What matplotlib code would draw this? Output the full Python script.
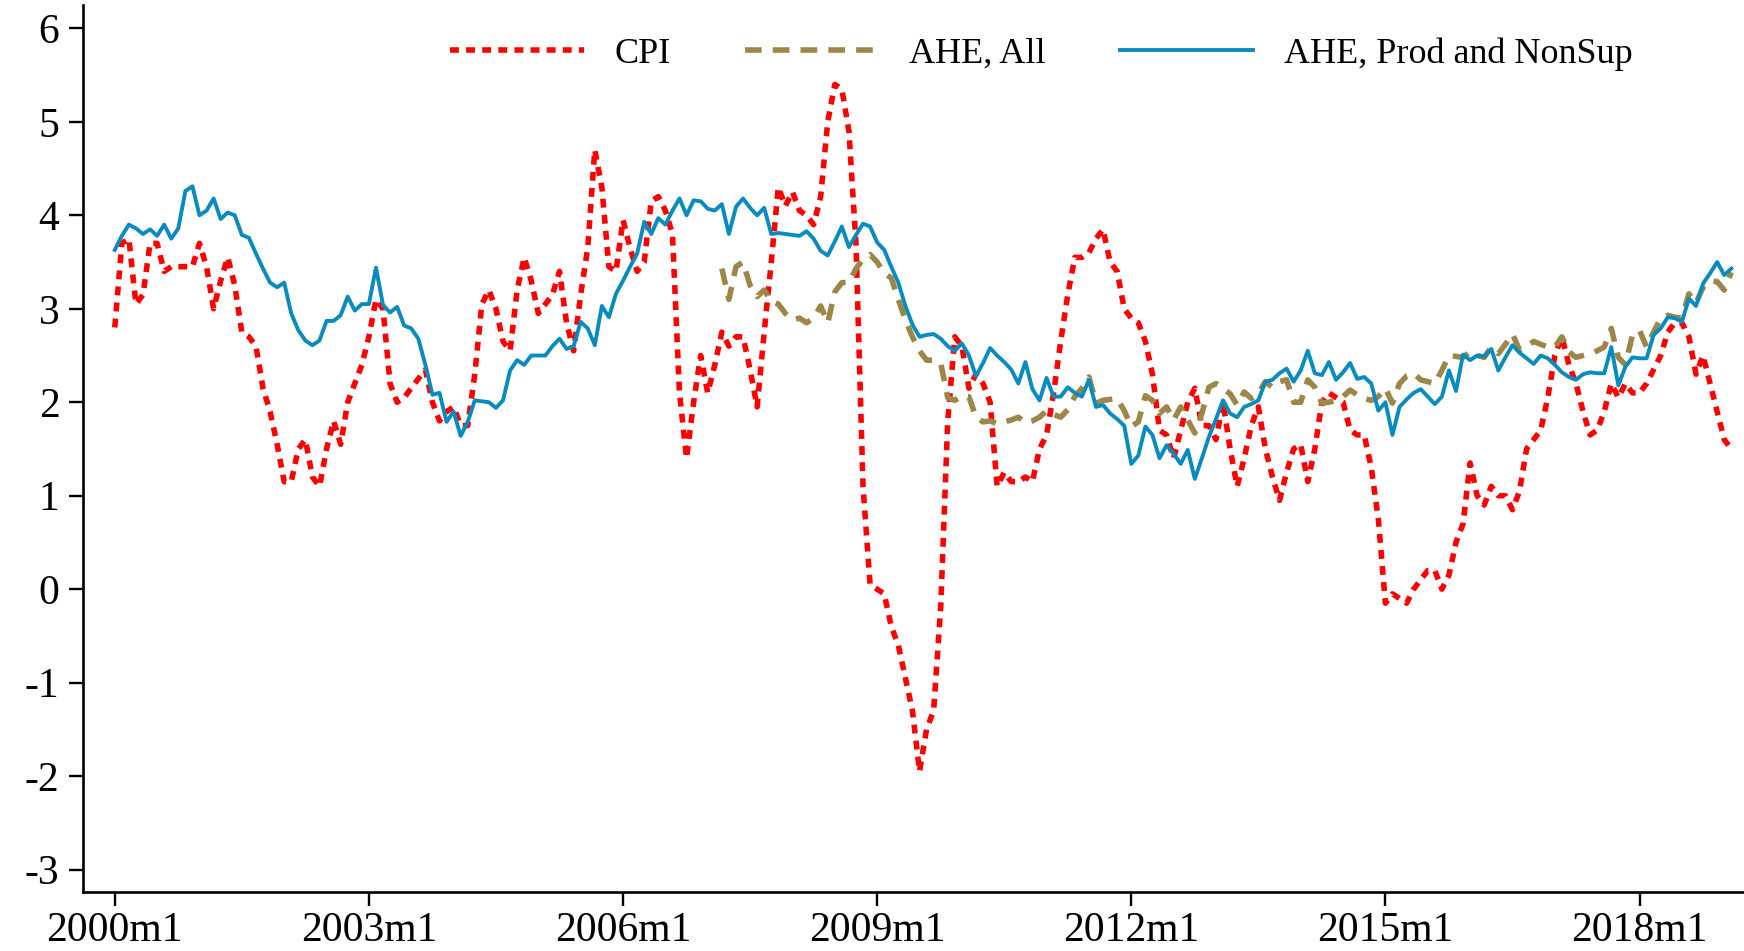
import numpy as np
import matplotlib
matplotlib.use("Agg")
import matplotlib.pyplot as plt

# monthly series, 2000m1 .. 2019m2 (year-over-year % change)
cpi = [
    2.80, 3.70, 3.75, 3.05, 3.15, 3.70, 3.70, 3.40, 3.45, 3.45, 3.45, 3.45,   # 2000
    3.70, 3.45, 3.00, 3.30, 3.55, 3.25, 2.75, 2.70, 2.60, 2.15, 1.90, 1.55,   # 2001
    1.15, 1.15, 1.50, 1.60, 1.20, 1.10, 1.50, 1.80, 1.55, 2.00, 2.20, 2.40,   # 2002
    2.70, 3.10, 3.00, 2.20, 2.00, 2.05, 2.15, 2.25, 2.35, 2.00, 1.80, 1.90,   # 2003
    1.95, 1.75, 1.75, 2.30, 3.05, 3.20, 3.00, 2.65, 2.55, 3.20, 3.55, 3.30,   # 2004
    2.95, 3.05, 3.15, 3.40, 2.85, 2.55, 3.15, 3.65, 4.70, 4.30, 3.45, 3.40,   # 2005
    3.95, 3.65, 3.40, 3.50, 4.15, 4.20, 4.05, 3.80, 2.10, 1.40, 2.00, 2.50,   # 2006
    2.10, 2.40, 2.75, 2.60, 2.70, 2.70, 2.35, 1.95, 2.75, 3.50, 4.30, 4.10,   # 2007
    4.25, 4.05, 4.00, 3.90, 4.20, 5.00, 5.40, 5.35, 4.90, 3.70, 1.10, 0.05,   # 2008
    0.00, -0.05, -0.40, -0.60, -0.95, -1.30, -1.95, -1.50, -1.30, -0.20, 1.80, 2.70,  # 2009
    2.60, 2.15, 2.30, 2.20, 2.00, 1.10, 1.25, 1.15, 1.15, 1.20, 1.15, 1.50,   # 2010
    1.65, 2.10, 2.65, 3.15, 3.55, 3.55, 3.60, 3.75, 3.85, 3.50, 3.40, 3.00,   # 2011
    2.90, 2.85, 2.65, 2.30, 1.70, 1.65, 1.40, 1.70, 2.00, 2.15, 1.75, 1.75,   # 2012
    1.60, 2.00, 1.50, 1.10, 1.40, 1.75, 1.95, 1.50, 1.20, 0.95, 1.25, 1.50,   # 2013
    1.55, 1.15, 1.50, 2.00, 2.10, 2.05, 2.00, 1.70, 1.65, 1.65, 1.30, 0.75,   # 2014
    -0.15, -0.05, -0.10, -0.15, 0.00, 0.10, 0.20, 0.20, 0.00, 0.15, 0.50, 0.70,  # 2015
    1.35, 1.00, 0.90, 1.10, 1.00, 1.00, 0.85, 1.05, 1.50, 1.60, 1.70, 2.05,   # 2016
    2.50, 2.70, 2.40, 2.20, 1.90, 1.65, 1.70, 1.90, 2.20, 2.05, 2.20, 2.10,   # 2017
    2.10, 2.20, 2.35, 2.50, 2.75, 2.85, 2.85, 2.70, 2.30, 2.50, 2.20, 1.90,   # 2018
    1.60, 1.50,                                                               # 2019
]

ahe_prod = [
    3.63, 3.78, 3.90, 3.86, 3.80, 3.85, 3.78, 3.90, 3.75, 3.86, 4.26, 4.31,
    4.00, 4.05, 4.18, 3.96, 4.03, 4.00, 3.79, 3.76, 3.59, 3.43, 3.28, 3.23,
    3.28, 2.95, 2.77, 2.66, 2.61, 2.66, 2.87, 2.87, 2.93, 3.13, 2.98, 3.05,
    3.05, 3.44, 3.04, 2.96, 3.02, 2.82, 2.79, 2.68, 2.40, 2.08, 2.10, 1.79,
    1.90, 1.64, 1.79, 2.02, 2.01, 2.00, 1.94, 2.02, 2.34, 2.45, 2.40, 2.50,
    2.50, 2.50, 2.60, 2.68, 2.57, 2.60, 2.86, 2.79, 2.61, 3.03, 2.91, 3.16,
    3.30, 3.45, 3.59, 3.93, 3.80, 3.97, 3.90, 4.05, 4.18, 4.00, 4.16, 4.15,
    4.07, 4.05, 4.12, 3.80, 4.09, 4.18, 4.08, 4.00, 4.08, 3.80, 3.81, 3.80,
    3.79, 3.78, 3.83, 3.75, 3.62, 3.57, 3.72, 3.88, 3.66, 3.79, 3.91, 3.88,
    3.71, 3.63, 3.45, 3.28, 3.03, 2.83, 2.70, 2.72, 2.73, 2.68, 2.60, 2.55,
    2.63, 2.50, 2.28, 2.42, 2.58, 2.50, 2.43, 2.35, 2.20, 2.43, 2.14, 2.02,
    2.26, 2.06, 2.06, 2.16, 2.10, 2.06, 2.24, 1.95, 1.97, 1.88, 1.82, 1.75,
    1.34, 1.43, 1.74, 1.65, 1.40, 1.54, 1.45, 1.34, 1.49, 1.18, 1.40, 1.63,
    1.82, 2.02, 1.88, 1.84, 1.95, 1.98, 2.02, 2.22, 2.24, 2.31, 2.36, 2.22,
    2.34, 2.55, 2.31, 2.29, 2.43, 2.24, 2.32, 2.42, 2.25, 2.27, 2.20, 1.91,
    2.00, 1.65, 1.95, 2.03, 2.10, 2.14, 2.06, 1.98, 2.06, 2.34, 2.12, 2.51,
    2.45, 2.50, 2.49, 2.57, 2.34, 2.48, 2.61, 2.53, 2.47, 2.41, 2.50, 2.47,
    2.40, 2.32, 2.27, 2.24, 2.30, 2.32, 2.31, 2.31, 2.59, 2.18, 2.38, 2.48,
    2.47, 2.47, 2.72, 2.79, 2.91, 2.90, 2.86, 3.11, 3.03, 3.27, 3.38, 3.50,
    3.36, 3.43,
]

# AHE, all employees starts in 2007m3
ahe_all_start = 86
ahe_all = [
    3.43, 3.10, 3.45, 3.50, 3.25, 3.13, 3.20, 3.08, 3.05, 2.95,
    2.88, 2.90, 2.85, 2.90, 3.03, 2.85, 3.18, 3.28, 3.28, 3.43, 3.53, 3.58,
    3.50, 3.38, 3.33, 3.10, 2.88, 2.70, 2.55, 2.45, 2.45, 2.42, 2.05, 2.02,
    2.07, 2.06, 1.84, 1.79, 1.80, 1.77, 1.79, 1.81, 1.84, 1.78, 1.80, 1.84,
    1.91, 1.87, 1.84, 1.92, 2.06, 2.15, 2.27, 1.99, 2.02, 2.03, 2.04, 1.91,
    1.74, 1.79, 2.07, 2.02, 1.88, 1.95, 1.81, 1.95, 1.81, 1.67, 1.88, 2.16,
    2.20, 2.15, 2.09, 1.97, 2.11, 2.04, 2.10, 2.22, 2.16, 2.22, 2.24, 2.00,
    2.00, 2.24, 2.16, 1.99, 2.00, 2.02, 2.06, 2.13, 2.08, 2.04, 2.02, 2.06,
    2.15, 1.99, 2.20, 2.28, 2.31, 2.24, 2.22, 2.20, 2.34, 2.50, 2.49, 2.48,
    2.54, 2.50, 2.48, 2.59, 2.52, 2.62, 2.73, 2.56, 2.60, 2.65, 2.62, 2.59,
    2.59, 2.70, 2.54, 2.48, 2.50, 2.52, 2.55, 2.59, 2.79, 2.48, 2.40, 2.72,
    2.77, 2.59, 2.75, 2.90, 2.93, 2.91, 2.90, 3.16, 3.06, 3.23, 3.30, 3.29,
    3.20, 3.39,
]

year_ticks = [0, 36, 72, 108, 144, 180, 216]
year_labels = ["2000m1", "2003m1", "2006m1", "2009m1", "2012m1", "2015m1", "2018m1"]
y_ticks = [-3, -2, -1, 0, 1, 2, 3, 4, 5, 6]

plt.rcParams["font.family"] = ["Liberation Serif", "DejaVu Serif"]

t = np.arange(len(cpi))
t_all = np.arange(ahe_all_start, ahe_all_start + len(ahe_all))

fig = plt.figure(figsize=(17.44, 9.51), dpi=100)
ax = fig.add_axes([83 / 1744, 59 / 951, 1661 / 1744, 887 / 951])

ax.plot(t, cpi, color="#ff0000", lw=4.0, linestyle=(0, (1.6, 1.3)),
        dash_capstyle="butt", label="CPI")
ax.plot(t_all, ahe_all, color="#9c8748", lw=4.0, linestyle=(0, (3.0, 2.0)),
        dash_capstyle="butt", label="AHE, All")
ax.plot(t[:len(ahe_prod)], ahe_prod, color="#0a8bbf", lw=2.8,
        label="AHE, Prod and NonSup")

ax.set_xlim(-4.5, 230.8)
ax.set_ylim(-3.24, 6.25)

ax.set_xticks(year_ticks)
ax.set_xticklabels(year_labels)
ax.set_yticks(y_ticks)
ax.set_yticklabels([str(v) for v in y_ticks])

for side in ["top", "right"]:
    ax.spines[side].set_visible(False)
for side in ["left", "bottom"]:
    ax.spines[side].set_linewidth(1.9)
ax.tick_params(axis="both", direction="out", length=10, width=1.7,
               labelsize=30, colors="black")
ax.tick_params(axis="x", pad=4)
ax.tick_params(axis="y", pad=7)

leg = ax.legend(loc="center left", bbox_to_anchor=(450 / 1744, 1 - 54 / 951),
                bbox_transform=fig.transFigure, ncol=3, frameon=False,
                fontsize=26, handlelength=3.7, handletextpad=0.85,
                columnspacing=2.05, borderpad=0, borderaxespad=0)

fig.savefig("out.png", dpi=100)
